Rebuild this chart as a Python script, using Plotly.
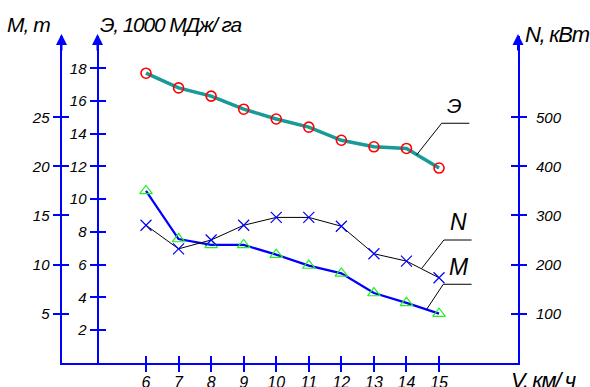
import plotly.graph_objects as go

# Speed of the unit, km/h
speed = [6, 7, 8, 9, 10, 11, 12, 13, 14, 15]
# Energy consumption, 1000 MJ/ha
energy = [17.7, 16.8, 16.3, 15.5, 14.9, 14.4, 13.6, 13.2, 13.1, 11.9]
# Power, kW
power = [280, 232, 250, 280, 296, 296, 278, 222, 207, 173]
# Mass, t
mass = [17.5, 12.6, 12.0, 12.0, 11.0, 9.9, 9.1, 7.1, 6.1, 5.0]

speed_ticks = [6, 7, 8, 9, 10, 11, 12, 13, 14, 15]
energy_ticks = [2, 4, 6, 8, 10, 12, 14, 16, 18]
mass_ticks = [5, 10, 15, 20, 25]
power_ticks = [100, 200, 300, 400, 500]

W, H = 590, 387
FONT = "Liberation Sans Narrow, Arial Narrow, Liberation Sans, Arial, sans-serif"
BLUE = "#0000ff"


def fx(px):
    return px / W


def fy(py):
    return 1 - py / H


def narrow(text, spacing):
    # tighten the letters to get a condensed look
    return f'<span style="letter-spacing:{spacing}px">{text}</span>'


# plot frame in pixels
X_LEFT, X_RIGHT = 61.5, 518
Y_BOTTOM, Y_TOP = 362.7, 36
E_AXIS_X = 97.5
# scales: pixels per unit
PX_SPEED = 32.56
PX_ENERGY = 16.356
PX_MASS = 9.816
PX_POWER = 0.4908
SPEED_REF_PX = 146

x_range = [6 + (X_LEFT - SPEED_REF_PX) / PX_SPEED, 6 + (X_RIGHT - SPEED_REF_PX) / PX_SPEED]
h = Y_BOTTOM - Y_TOP
e_range = [0, h / PX_ENERGY]
m_range = [0, h / PX_MASS]
p_range = [0, h / PX_POWER]
y_dom = [fy(Y_BOTTOM), fy(Y_TOP)]
x_dom = [fx(X_LEFT), fx(X_RIGHT)]

tickfont = dict(family=FONT, size=15, color="black", style="italic")

fig = go.Figure()

# Power N (black thin line, blue crosses)
fig.add_trace(go.Scatter(
    x=speed, y=power, mode="lines+markers", yaxis="y5",
    line=dict(color="black", width=1),
    marker=dict(symbol="x-thin-open", size=11, line=dict(color=BLUE, width=1.2), color=BLUE),
))
# Mass M (blue line, green triangles)
fig.add_trace(go.Scatter(
    x=speed, y=mass, mode="lines+markers", yaxis="y",
    line=dict(color=BLUE, width=2.3),
    marker=dict(symbol="triangle-up-open", size=11, color="#22ee22", line=dict(color="#22ee22", width=1.2)),
))
# Energy Э (teal thick line, red circles)
fig.add_trace(go.Scatter(
    x=speed, y=energy, mode="lines+markers", yaxis="y3",
    line=dict(color="#179a98", width=3.5),
    marker=dict(symbol="circle-open", size=10, color="#ff0000", line=dict(color="#ff0000", width=1.6)),
))

# placeholders so the companion axes (inner halves of the ticks) are drawn
for ax in ["y2", "y4", "y6"]:
    fig.add_trace(go.Scatter(x=[None], y=[None], yaxis=ax, showlegend=False, hoverinfo="skip"))
fig.add_trace(go.Scatter(x=[None], y=[None], xaxis="x2", showlegend=False, hoverinfo="skip"))

common_y = dict(domain=y_dom, showgrid=False, zeroline=False, tickcolor=BLUE,
                tickwidth=2, ticklen=7, tickfont=tickfont, automargin=False)

fig.update_layout(
    width=W, height=H,
    margin=dict(l=0, r=0, t=0, b=0),
    paper_bgcolor="white", plot_bgcolor="white",
    showlegend=False,
    xaxis=dict(domain=x_dom, range=x_range, anchor="y", tickvals=speed_ticks,
               ticks="outside", ticklen=7, tickwidth=2, tickcolor=BLUE,
               showline=True, linecolor=BLUE, linewidth=2, showgrid=False,
               zeroline=False, tickfont=dict(tickfont, size=16), automargin=False,
               ticklabelstandoff=-3),
    xaxis2=dict(domain=x_dom, range=x_range, anchor="y", overlaying="x", tickvals=speed_ticks,
                ticks="inside", ticklen=7, tickwidth=2, tickcolor=BLUE,
                showticklabels=False, showline=False, showgrid=False, zeroline=False),
    yaxis=dict(**common_y, range=m_range, anchor="x", side="left", tickvals=mass_ticks,
               ticks="outside", showline=True, linecolor=BLUE, linewidth=2),
    yaxis2=dict(**common_y, range=m_range, anchor="x", side="left", overlaying="y",
                tickvals=mass_ticks, ticks="inside", showticklabels=False, showline=False),
    yaxis3=dict(**common_y, range=e_range, anchor="free", position=fx(E_AXIS_X), side="left",
                overlaying="y", tickvals=energy_ticks, ticks="outside",
                showline=True, linecolor=BLUE, linewidth=2),
    yaxis4=dict(**common_y, range=e_range, anchor="free", position=fx(E_AXIS_X), side="left",
                overlaying="y", tickvals=energy_ticks, ticks="inside",
                showticklabels=False, showline=False),
    yaxis5=dict(**common_y, range=p_range, anchor="x", side="right", overlaying="y",
                tickvals=power_ticks, ticks="outside", showline=True, linecolor=BLUE,
                linewidth=2, ticklabelstandoff=6),
    yaxis6=dict(**common_y, range=p_range, anchor="x", side="right", overlaying="y",
                tickvals=power_ticks, ticks="inside", showticklabels=False, showline=False),
)

# arrowheads on the vertical axes
for ax_x in [X_LEFT, E_AXIS_X, X_RIGHT]:
    fig.add_annotation(xref="paper", yref="paper", x=fx(ax_x), y=fy(34), ax=0, ay=18,
                       text="", showarrow=True, arrowhead=2, arrowsize=1.1,
                       arrowwidth=2, arrowcolor=BLUE)

# axis titles
titlefont = dict(family=FONT, size=21, color="black", style="italic")
titles = [
    ("M, т", 28, 25, 21, -1.0),
    ("Э, 1000 МДж/ га", 171, 25, 21, -1.2),
    ("N, кВт", 557, 35, 22, -1.3),
    ("V, км/ ч", 543, 380, 22, -1.3),
]
for text, px, py, fs, sp in titles:
    fig.add_annotation(xref="paper", yref="paper", x=fx(px), y=fy(py),
                       xanchor="center", yanchor="middle", text=narrow(text, sp),
                       showarrow=False, font=dict(titlefont, size=fs))

# callout leaders for the three curves
leaders = [
    ("y3", [14.31, 15.08, 15.93], [12.70, 14.64, 14.64], "Э", 15.49, 15.75, 21),
    ("y5", [14.47, 15.15, 16.0], [192.3, 250, 250], "N", 15.61, 286.7, 23),
    ("y", [14.62, 15.13, 16.0], [5.44, 7.99, 7.99], "M", 15.61, 9.75, 23),
]
for yax, lx, ly, label, tx, ty, fs in leaders:
    fig.add_trace(go.Scatter(x=lx, y=ly, yaxis=yax, mode="lines",
                             line=dict(color="black", width=1), hoverinfo="skip"))
    fig.add_annotation(x=tx, y=ty, xref="x", yref=yax, text=label, showarrow=False,
                       xanchor="center", yanchor="middle",
                       font=dict(family=FONT, size=fs, color="black", style="italic"))

fig.write_html("out.html")
